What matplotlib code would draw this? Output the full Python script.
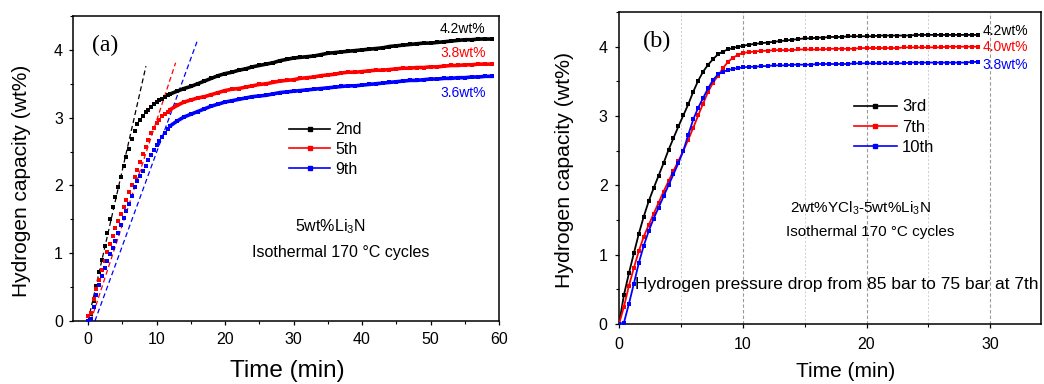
import matplotlib
matplotlib.use("Agg")
import matplotlib.pyplot as plt
from matplotlib.ticker import MultipleLocator
from matplotlib.lines import Line2D

plt.rcParams['font.family'] = ['Liberation Sans', 'DejaVu Sans']
plt.rcParams['mathtext.fontset'] = 'custom'
plt.rcParams['mathtext.rm'] = 'Liberation Sans'
plt.rcParams['mathtext.it'] = 'Liberation Sans:italic'
plt.rcParams['mathtext.bf'] = 'Liberation Sans:bold'

# ---------------- Panel (a): 5wt% Li3N ----------------
time_a = [0.0, 0.4, 0.8, 1.2, 1.6, 2.0, 2.4, 2.8, 3.2, 3.6, 4.0, 4.4, 4.8, 5.2, 5.6, 6.0,
          6.4, 6.8, 7.2, 7.6, 8.0, 8.4, 8.8, 9.2, 9.6, 10.0, 10.4, 10.8, 11.2, 11.6, 12.0,
          13, 14, 15, 16, 17, 18, 19, 20, 21, 22, 23, 24, 25, 26, 27, 28, 29, 30,
          31, 32, 33, 34, 35, 36, 37, 38, 39, 40, 41, 42, 43, 44, 45, 46, 47, 48, 49, 50,
          51, 52, 53, 54, 55, 56, 57, 58, 59]
cap_2nd = [0.00, 0.10, 0.29, 0.52, 0.72, 0.90, 1.10, 1.30, 1.50, 1.68, 1.83, 1.98, 2.12, 2.28, 2.42, 2.54,
           2.68, 2.80, 2.90, 2.97, 3.03, 3.08, 3.12, 3.16, 3.20, 3.23, 3.26, 3.28, 3.31, 3.33, 3.35,
           3.39, 3.43, 3.46, 3.50, 3.54, 3.58, 3.62, 3.65, 3.67, 3.70, 3.72, 3.75, 3.77, 3.79, 3.81, 3.84, 3.86, 3.88,
           3.89, 3.90, 3.91, 3.93, 3.95, 3.96, 3.97, 3.98, 3.99, 4.00, 4.01, 4.02, 4.03, 4.05, 4.06, 4.07, 4.08, 4.09, 4.10, 4.10,
           4.11, 4.12, 4.13, 4.14, 4.15, 4.15, 4.16, 4.16, 4.16]
cap_5th = [0.08, 0.12, 0.32, 0.47, 0.61, 0.75, 0.89, 1.02, 1.14, 1.26, 1.37, 1.48, 1.58, 1.68, 1.79, 1.90,
           2.01, 2.12, 2.23, 2.35, 2.46, 2.56, 2.67, 2.77, 2.85, 2.92, 2.97, 3.02, 3.06, 3.09, 3.12,
           3.18, 3.23, 3.26, 3.29, 3.31, 3.34, 3.37, 3.40, 3.42, 3.43, 3.45, 3.47, 3.49, 3.50, 3.52, 3.54, 3.55, 3.56,
           3.58, 3.59, 3.60, 3.62, 3.63, 3.64, 3.66, 3.67, 3.67, 3.68, 3.69, 3.70, 3.70, 3.71, 3.72, 3.73, 3.73, 3.74, 3.74, 3.75,
           3.75, 3.76, 3.77, 3.77, 3.78, 3.78, 3.79, 3.79, 3.79]
cap_9th = [0.00, 0.03, 0.20, 0.38, 0.53, 0.66, 0.78, 0.89, 0.99, 1.08, 1.18, 1.30, 1.42, 1.52, 1.62, 1.73,
           1.85, 1.97, 2.06, 2.14, 2.21, 2.29, 2.37, 2.45, 2.52, 2.59, 2.66, 2.72, 2.78, 2.83, 2.88,
           2.95, 3.01, 3.05, 3.09, 3.13, 3.17, 3.20, 3.23, 3.25, 3.27, 3.29, 3.31, 3.32, 3.33, 3.35, 3.37, 3.38, 3.39,
           3.40, 3.41, 3.42, 3.43, 3.44, 3.45, 3.46, 3.47, 3.47, 3.48, 3.49, 3.50, 3.51, 3.52, 3.53, 3.54, 3.55, 3.55, 3.56, 3.57,
           3.57, 3.58, 3.58, 3.59, 3.59, 3.60, 3.60, 3.61, 3.61]
labels_a = ['2nd', '5th', '9th']
final_a = ['4.2wt%', '3.8wt%', '3.6wt%']
final_a_y = [4.31, 3.95, 3.37]
# tangent (slope) guide lines: (t_start, t_end), (y_start, y_end)
tan_t = [(0.0, 8.45), (0.4, 12.78), (1.0, 15.9)]
tan_y = [(0.0, 3.76), (0.0, 3.81), (0.0, 4.12)]

# ---------------- Panel (b): 2wt% YCl3 - 5wt% Li3N ----------------
time_b = [0.0, 0.4, 0.8, 1.2, 1.6, 2.0, 2.4, 2.8, 3.2, 3.6, 4.0, 4.4, 4.8, 5.2, 5.6, 6.0,
          6.4, 6.8, 7.2, 7.6, 8.0, 8.4, 8.8, 9.2, 9.6, 10.0,
          10.5, 11.0, 11.5, 12.0, 12.5, 13.0, 13.5, 14.0, 14.5, 15.0, 15.5, 16.0, 16.5, 17.0,
          17.5, 18.0, 18.5, 19.0, 19.5, 20.0, 20.5, 21.0, 21.5, 22.0, 22.5, 23.0, 23.5, 24.0,
          24.5, 25.0, 25.5, 26.0, 26.5, 27.0, 27.5, 28.0, 28.5, 29.0]
cap_3rd = [0.00, 0.42, 0.73, 1.02, 1.30, 1.55, 1.77, 1.96, 2.14, 2.32, 2.51, 2.68, 2.85, 3.01, 3.17, 3.35,
           3.51, 3.64, 3.74, 3.82, 3.89, 3.93, 3.96, 3.98, 4.00, 4.01,
           4.03, 4.04, 4.05, 4.06, 4.07, 4.08, 4.09, 4.10, 4.11, 4.12, 4.12, 4.13, 4.13, 4.14,
           4.14, 4.14, 4.15, 4.15, 4.15, 4.15, 4.15, 4.16, 4.16, 4.16, 4.16, 4.16, 4.16, 4.17,
           4.17, 4.17, 4.17, 4.17, 4.17, 4.17, 4.17, 4.17, 4.17, 4.17]
cap_7th = [0.00, 0.25, 0.55, 0.81, 1.05, 1.26, 1.43, 1.59, 1.75, 1.91, 2.06, 2.21, 2.35, 2.50, 2.66, 2.83,
           3.01, 3.18, 3.35, 3.48, 3.58, 3.69, 3.78, 3.84, 3.88, 3.91,
           3.92, 3.93, 3.94, 3.94, 3.95, 3.95, 3.95, 3.95, 3.96, 3.96, 3.96, 3.96, 3.96, 3.97,
           3.97, 3.97, 3.97, 3.97, 3.98, 3.98, 3.98, 3.98, 3.98, 3.98, 3.98, 3.99, 3.99, 3.99,
           3.99, 3.99, 3.99, 3.99, 4.00, 4.00, 4.00, 4.00, 4.00, 4.00]
cap_10th = [0.00, 0.02, 0.29, 0.58, 0.88, 1.13, 1.34, 1.52, 1.68, 1.84, 2.00, 2.16, 2.32, 2.50, 2.73, 2.95,
            3.12, 3.26, 3.40, 3.52, 3.60, 3.64, 3.66, 3.68, 3.69, 3.70,
            3.71, 3.71, 3.72, 3.72, 3.73, 3.73, 3.73, 3.74, 3.74, 3.74, 3.74, 3.75, 3.75, 3.75,
            3.75, 3.75, 3.75, 3.76, 3.76, 3.76, 3.76, 3.76, 3.76, 3.76, 3.76, 3.76, 3.77, 3.77,
            3.77, 3.77, 3.77, 3.77, 3.77, 3.77, 3.77, 3.77, 3.78, 3.78]
labels_b = ['3rd', '7th', '10th']
final_b = ['4.2wt%', '4.0wt%', '3.8wt%']
final_b_y = [4.23, 3.99, 3.73]

colors = ['black', '#ff0000', '#0000ff']

W, H = 1044, 384
fig = plt.figure(figsize=(W / 100, H / 100), dpi=100)
axA = fig.add_axes([73 / W, (H - 321) / H, 426 / W, 305 / H])
axB = fig.add_axes([619 / W, (H - 324) / H, 422 / W, 312 / H])


def style_axes(ax, xpad, ypad):
    for s in ax.spines.values():
        s.set_linewidth(1.1)
    ax.tick_params(which='major', direction='out', length=3.2, width=0.9,
                   labelsize=11.5, top=False, right=False)
    ax.tick_params(which='minor', direction='out', length=1.9, width=0.8,
                   top=False, right=False)
    ax.tick_params(axis='x', which='major', pad=xpad)
    ax.tick_params(axis='y', which='major', pad=ypad)
    ax.set_ylim(0, 4.5)
    ax.yaxis.set_major_locator(MultipleLocator(1))
    ax.yaxis.set_minor_locator(MultipleLocator(0.5))


# ---- Panel (a) ----
series_a = [cap_2nd, cap_5th, cap_9th]
n_early = 31
for y, c, lab in zip(series_a, colors, labels_a):
    axA.plot(time_a, y, ls='none', marker='s', ms=3.3, mec=c, mfc=c, mew=0, zorder=3)
    axA.plot(time_a[n_early - 1:], y[n_early - 1:], ls='-', lw=2.6, color=c, zorder=3)
for (t0, t1), (y0, y1), c in zip(tan_t, tan_y, colors):
    axA.plot([t0, t1], [y0, y1], ls=(0, (4, 2.5)), lw=0.9, color=c, zorder=2)
for txt, yy, c in zip(final_a, final_a_y, colors):
    axA.text(54.7, yy, txt, color=c, fontsize=10, ha='center', va='center')

handles_a = [Line2D([], [], color=c, lw=1.2, marker='s', ms=2.8) for c in colors]
axA.legend(handles_a, labels_a, loc='upper left', bbox_to_anchor=(0.508, 0.652),
           frameon=False, fontsize=11.5, handlelength=2.55, handletextpad=0.3,
           labelspacing=0.3, borderpad=0, borderaxespad=0)

axA.text(0.603, 0.308, r'5wt%Li$_3$N', transform=axA.transAxes, fontsize=11.5,
         ha='center', va='center')
axA.text(0.629, 0.223, 'Isothermal 170 °C cycles', transform=axA.transAxes,
         fontsize=11.5, ha='center', va='center')
axA.text(0.075, 0.905, '(a)', transform=axA.transAxes, fontsize=17,
         family=['Liberation Serif'], ha='center', va='center')

axA.set_xlim(-2.2, 60)
axA.xaxis.set_major_locator(MultipleLocator(10))
axA.xaxis.set_minor_locator(MultipleLocator(5))
style_axes(axA, xpad=5, ypad=4)
axA.set_xlabel('Time (min)', fontsize=17.5)
axA.xaxis.set_label_coords(0.502, -0.128)
axA.set_ylabel('Hydrogen capacity (wt%)', fontsize=15)
axA.yaxis.set_label_coords(-0.099, 0.459)

# ---- Panel (b) ----
series_b = [cap_3rd, cap_7th, cap_10th]
for x in [5, 15, 25]:
    axB.axvline(x, color='#cccccc', lw=0.7, ls=(0, (2, 2)), zorder=0)
for x in [10, 20, 30]:
    axB.axvline(x, color='#999999', lw=0.8, ls=(0, (3, 2)), zorder=0)
for y, c in zip(series_b, colors):
    axB.plot(time_b, y, ls='-', lw=1.3, color=c, marker='s', ms=2.6, mew=0, zorder=3)
for txt, yy, c in zip(final_b, final_b_y, colors):
    axB.text(29.35, yy, txt, color=c, fontsize=10, ha='left', va='center')

handles_b = [Line2D([], [], color=c, lw=1.2, marker='s', ms=2.8) for c in colors]
axB.legend(handles_b, labels_b, loc='upper left', bbox_to_anchor=(0.556, 0.72),
           frameon=False, fontsize=12, handlelength=2.6, handletextpad=0.3,
           labelspacing=0.32, borderpad=0, borderaxespad=0)

axB.text(0.571, 0.372, r'2wt%YCl$_3$-5wt%Li$_3$N', transform=axB.transAxes,
         fontsize=11, ha='center', va='center')
axB.text(0.595, 0.295, 'Isothermal 170 °C cycles', transform=axB.transAxes,
         fontsize=11, ha='center', va='center')
axB.text(0.038, 0.125, 'Hydrogen pressure drop from 85 bar to 75 bar at 7th',
         transform=axB.transAxes, fontsize=12.5, ha='left', va='center', clip_on=False)
axB.text(0.09, 0.905, '(b)', transform=axB.transAxes, fontsize=17.5,
         family=['Liberation Serif'], ha='center', va='center')

axB.set_xlim(0, 34.1)
axB.xaxis.set_major_locator(MultipleLocator(10))
axB.xaxis.set_minor_locator(MultipleLocator(5))
style_axes(axB, xpad=6.5, ypad=5)
axB.set_xlabel('Time (min)', fontsize=15)
axB.xaxis.set_label_coords(0.536, -0.122)
axB.set_ylabel('Hydrogen capacity (wt%)', fontsize=15.3)
axB.yaxis.set_label_coords(-0.107, 0.494)

fig.savefig('out.png', dpi=100)
